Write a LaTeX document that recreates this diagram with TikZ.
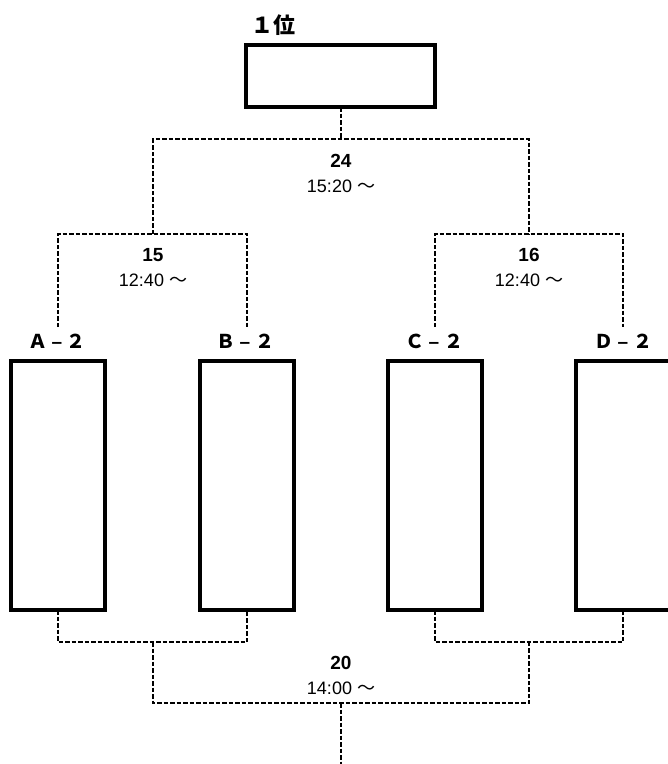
\documentclass[tikz,border=0pt]{standalone}
\usepackage{fontspec}
\setmainfont{Liberation Sans}
\newfontfamily\jp{Noto Sans CJK JP}
\newcommand{\teamname}[1]{{\jp\bfseries #1}\makebox[20pt]{\bfseries –}{\jp\bfseries ２}}
\tikzset{
  seat/.style={draw=black, line width=4pt, minimum width=94pt, minimum height=249pt, inner sep=0pt, outer sep=0pt},
  winbox/.style={draw=black, line width=4pt, minimum width=189pt, minimum height=62pt, inner sep=0pt, outer sep=0pt},
  link/.style={draw=black, line width=1.6pt, dash pattern=on 4.5pt off 2pt},
  teamlbl/.style={font=\fontsize{19}{19}\selectfont, inner sep=0pt},
  gamenum/.style={font=\bfseries\fontsize{19}{19}\selectfont, inner sep=0pt},
  gametime/.style={font=\fontsize{18}{18}\selectfont, inner sep=0pt}
}
\begin{document}
\begin{tikzpicture}[x=1pt, y=-1pt]
\useasboundingbox (0,0) rectangle (668,764);
% winner box
\node[winbox] (win) at (340.5,76) {};
\node[font=\jp\bfseries\fontsize{22}{22}\selectfont, inner sep=0pt] (winlbl) at (273,25) {１位};
% team boxes
\node[seat] (A) at (58,485.5) {};
\node[seat] (B) at (247,485.5) {};
\node[seat] (C) at (435,485.5) {};
\node[seat] (D) at (623,485.5) {};
\node[teamlbl] (Alab) at (57,341) {\teamname{Ａ}};
\node[teamlbl] (Blab) at (245,341) {\teamname{Ｂ}};
\node[teamlbl] (Clab) at (434,341) {\teamname{Ｃ}};
\node[teamlbl] (Dlab) at (623,341) {\teamname{Ｄ}};
% upper connectors
\coordinate (tA) at (58,327);
\coordinate (tB) at (247,327);
\coordinate (tC) at (435,327);
\coordinate (tD) at (623,327);
\coordinate (j15) at (153,234);
\coordinate (j16) at (529,234);
\coordinate (j24) at (341,139);
\draw[link] (tA) |- (j15) -| (tB);
\draw[link] (tC) |- (j16) -| (tD);
\draw[link] (j15) |- (j24) -| (j16);
\draw[link] (win.south -| j24) -- (j24);
% lower connectors
\coordinate (bl) at (153,642);
\coordinate (br) at (529,642);
\coordinate (j20) at (341,703);
\coordinate (bend) at (341,764);
\draw[link] (A.south) |- (bl) -| (B.south);
\draw[link] (C.south) |- (br) -| (D.south);
\draw[link] (bl) |- (j20) -| (br);
\draw[link] (j20) -- (bend);
% labels
\node[gamenum] (n24) at (341,161) {24};
\node[gametime] (t24) at (341,186) {15:20 {\jp ～}};
\node[gamenum] (n15) at (153,255) {15};
\node[gametime] (t15) at (153,280) {12:40 {\jp ～}};
\node[gamenum] (n16) at (529,255) {16};
\node[gametime] (t16) at (529,280) {12:40 {\jp ～}};
\node[gamenum] (n20) at (341,663) {20};
\node[gametime] (t20) at (341,688) {14:00 {\jp ～}};
\end{tikzpicture}
\end{document}
